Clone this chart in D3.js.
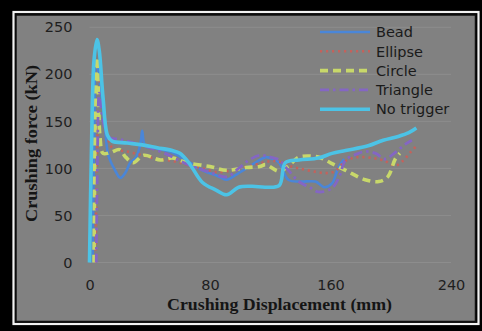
<!DOCTYPE html>
<html>
<head>
<meta charset="utf-8">
<script src="https://cdn.jsdelivr.net/npm/d3@7"></script>
<style>
  body { margin: 0; background: #000; }
  #chart text { font-family: "DejaVu Sans", sans-serif; }
</style>
</head>
<body>
<div id="chart"></div>
<script>
// tick labels
let xTicks = [0, 80, 160, 240];
let yTicks = [0, 50, 100, 150, 200, 250];

let seriesNames = ["Bead", "Ellipse", "Circle", "Triangle", "No trigger"];

// series values (displacement mm, force kN)
let beadX = [2, 3, 4.5, 7, 10, 12.5, 17, 20.5, 24, 27, 31, 34, 35, 37, 45, 55, 65, 75, 85, 91, 98, 106, 112, 117, 122, 126, 132, 140, 150, 156, 161, 165, 169];
let beadY = [0, 120, 215, 190, 150, 114, 98, 90, 96, 106, 112, 128, 140, 124, 121, 117, 108, 98, 92, 88, 94, 102, 108, 112, 110, 106, 88, 86, 86, 80, 84, 100, 110];

let ellipseX = [4, 4.8, 6, 7.5, 10, 15, 25, 35, 45, 55, 65, 75, 85, 95, 105, 115, 122, 126, 132, 139, 148, 157, 163, 170, 178, 188, 196, 203, 208, 213, 217];
let ellipseY = [0, 100, 170, 205, 160, 122, 118, 114, 110, 108, 104, 100, 96, 98, 102, 106, 108, 107, 103, 100, 97, 95, 97, 108, 112, 111, 108, 103, 108, 117, 124];

let circleX = [3, 3.8, 5, 6, 7, 9, 14, 20, 24, 29, 36, 47, 55, 65, 80, 91, 104, 113, 117, 126, 133, 139, 152, 160, 170, 183, 192, 198, 203, 206];
let circleY = [0, 150, 218, 175, 133, 116, 117, 120, 112, 106, 114, 109, 111, 106, 102, 98, 101, 102, 104, 97, 104, 112, 112, 106, 98, 88, 86, 91, 110, 116];

let triangleX = [4.5, 5.3, 6.5, 9, 13, 20, 30, 40, 50, 60, 70, 80, 91, 99, 106, 113, 120, 126, 132, 139, 146, 152, 161, 166, 170, 177, 183, 190, 196, 203, 210, 214];
let triangleY = [0, 110, 180, 150, 133, 131, 127, 122, 116, 108, 101, 96, 91, 100, 109, 114, 112, 109, 98, 86, 80, 75, 79, 92, 109, 115, 118, 116, 110, 117, 126, 130];

let noTriggerX = [0, 1.3, 3, 5, 6.5, 9, 12, 15, 25, 35, 45, 55, 60, 66, 75, 84, 91, 99, 108, 117, 126, 130, 139, 152, 161, 170, 185, 195, 205, 212, 217];
let noTriggerY = [0, 120, 215, 237, 225, 175, 135, 129, 127, 125, 122, 119, 116, 106, 85, 77, 72, 80, 81, 80, 82, 106, 109, 111, 116, 119, 124, 130, 134, 138, 143];

const width = 482, height = 331;

let svg = d3.select("#chart")
    .append("svg")
    .attr("width", width)
    .attr("height", height);

// frame: black, white rule, black rule, grey panel
svg.append("rect").attr("width", width).attr("height", height).attr("fill", "#000");
svg.append("rect")
    .attr("x", 13.5).attr("y", 12)
    .attr("width", 465).attr("height", 312)
    .attr("fill", "none").attr("stroke", "#f2f2f2").attr("stroke-width", 2.2);
svg.append("rect")
    .attr("x", 16).attr("y", 15)
    .attr("width", 459.5).attr("height", 306.5)
    .attr("fill", "#818181").attr("stroke", "#111").attr("stroke-width", 1.5);

let x = d3.scaleLinear().domain([0, 240]).range([89.5, 451]);
let y = d3.scaleLinear().domain([0, 250]).range([262.5, 27.3]);

// gridlines
svg.append("g")
    .selectAll("line")
    .data(yTicks)
    .enter()
    .append("line")
    .attr("x1", x(0))
    .attr("x2", x(240))
    .attr("y1", d => y(d))
    .attr("y2", d => y(d))
    .attr("stroke", "#8d8d8d")
    .attr("stroke-width", 1);

// y tick labels
svg.append("g")
    .attr("transform", `translate(${x(0) - 17}, 0)`)
    .call(d3.axisLeft(y).tickValues(yTicks).tickSize(0).tickPadding(0))
    .call(g => g.select(".domain").remove())
    .selectAll("text")
    .attr("font-size", 14.5)
    .attr("fill", "#1e1e1e")
    .style("font-family", "'DejaVu Sans', sans-serif");

// x tick labels
svg.append("g")
    .attr("transform", `translate(0, ${y(0) + 17})`)
    .call(d3.axisBottom(x).tickValues(xTicks).tickSize(0).tickPadding(0))
    .call(g => g.select(".domain").remove())
    .selectAll("text")
    .attr("font-size", 14.5)
    .attr("fill", "#1e1e1e")
    .style("font-family", "'DejaVu Sans', sans-serif");

// axis titles
svg.append("text")
    .attr("x", 279.5)
    .attr("y", 310)
    .attr("text-anchor", "middle")
    .attr("font-size", 17)
    .attr("font-weight", "bold")
    .attr("fill", "#151515")
    .attr("textLength", 225)
    .attr("lengthAdjust", "spacingAndGlyphs")
    .style("font-family", "'Liberation Serif', serif")
    .text("Crushing Displacement (mm)");

svg.append("text")
    .attr("transform", "translate(37, 143.5) rotate(-90)")
    .attr("text-anchor", "middle")
    .attr("font-size", 17)
    .attr("font-weight", "bold")
    .attr("fill", "#151515")
    .attr("textLength", 157)
    .attr("lengthAdjust", "spacingAndGlyphs")
    .style("font-family", "'Liberation Serif', serif")
    .text("Crushing force (kN)");

const lineColor = d3.scaleOrdinal()
    .domain(seriesNames)
    .range(["#4a86d8", "#c4625c", "#c8d86a", "#8466c4", "#4cc3e6"]);

const lineWidth = { "Bead": 2.6, "Ellipse": 2.6, "Circle": 3.6, "Triangle": 2.8, "No trigger": 3.6 };
const lineDash = { "Bead": null, "Ellipse": "2.2,3.8", "Circle": "8,5", "Triangle": "9,4,2.5,4", "No trigger": null };

let seriesData = [
    { name: "Bead", xs: beadX, ys: beadY },
    { name: "Ellipse", xs: ellipseX, ys: ellipseY },
    { name: "Circle", xs: circleX, ys: circleY },
    { name: "Triangle", xs: triangleX, ys: triangleY },
    { name: "No trigger", xs: noTriggerX, ys: noTriggerY }
];

let line = d3.line()
    .x(d => x(d[0]))
    .y(d => y(d[1]))
    .curve(d3.curveCatmullRom.alpha(0.5));

svg.append("g")
    .selectAll("path")
    .data(seriesData)
    .enter()
    .append("path")
    .attr("d", d => line(d3.zip(d.xs, d.ys)))
    .attr("fill", "none")
    .attr("stroke", d => lineColor(d.name))
    .attr("stroke-width", d => lineWidth[d.name])
    .attr("stroke-dasharray", d => lineDash[d.name])
    .attr("stroke-linejoin", "round");

// legend
let legend = svg.append("g")
    .selectAll("g")
    .data(seriesNames)
    .enter()
    .append("g")
    .attr("transform", (d, i) => `translate(320, ${32 + i * 19.3})`);

legend.append("line")
    .attr("x1", 0)
    .attr("x2", 50)
    .attr("stroke", d => lineColor(d))
    .attr("stroke-width", d => lineWidth[d])
    .attr("stroke-dasharray", d => lineDash[d]);

legend.append("text")
    .attr("x", 56)
    .attr("dy", "0.36em")
    .attr("font-size", 14.5)
    .attr("fill", "#1a1a1a")
    .text(d => d);
</script>
</body>
</html>
